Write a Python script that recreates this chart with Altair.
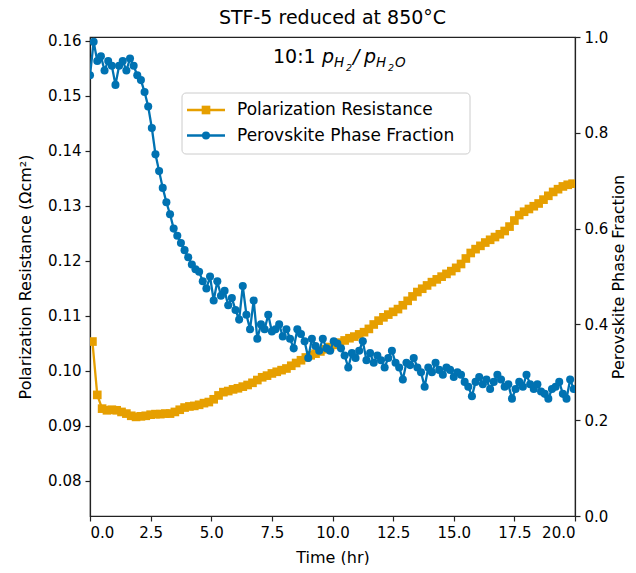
import altair as alt
import pandas as pd

# ---------------- data ----------------
rp_time = [0.1, 0.3, 0.5, 0.7, 0.9, 1.1, 1.3, 1.5, 1.7, 1.9,
           2.1, 2.3, 2.5, 2.7, 2.9, 3.1, 3.3, 3.5, 3.7, 3.9,
           4.1, 4.3, 4.5, 4.7, 4.9, 5.1, 5.3, 5.5, 5.7, 5.9,
           6.1, 6.3, 6.5, 6.7, 6.9, 7.1, 7.3, 7.5, 7.7, 7.9,
           8.1, 8.3, 8.5, 8.7, 8.9, 9.1, 9.3, 9.5, 9.7, 9.9,
           10.1, 10.3, 10.5, 10.7, 10.9, 11.1, 11.3, 11.5, 11.7, 11.9,
           12.1, 12.3, 12.5, 12.7, 12.9, 13.1, 13.3, 13.5, 13.7, 13.9,
           14.1, 14.3, 14.5, 14.7, 14.9, 15.1, 15.3, 15.5, 15.7, 15.9,
           16.1, 16.3, 16.5, 16.7, 16.9, 17.1, 17.3, 17.5, 17.7, 17.9,
           18.1, 18.3, 18.5, 18.7, 18.9, 19.1, 19.3, 19.5, 19.7, 19.9]
rp_values = [0.1053, 0.0956, 0.0931, 0.0928, 0.0929, 0.0928, 0.0925, 0.0922, 0.0918, 0.0916,
             0.0917, 0.0918, 0.0920, 0.0921, 0.0921, 0.0922, 0.0922, 0.0925, 0.0929, 0.0933,
             0.0935, 0.0936, 0.0938, 0.0941, 0.0943, 0.0948, 0.0955, 0.0961, 0.0963, 0.0966,
             0.0968, 0.0971, 0.0974, 0.0978, 0.0983, 0.0988, 0.0991, 0.0995, 0.0998, 0.1001,
             0.1004, 0.1009, 0.1014, 0.1019, 0.1024, 0.1028, 0.1031, 0.1035, 0.1039, 0.1043,
             0.1047, 0.1051, 0.1055, 0.1059, 0.1062, 0.1066, 0.1070, 0.1076, 0.1084, 0.1091,
             0.1097, 0.1102, 0.1107, 0.1112, 0.1119, 0.1127, 0.1135, 0.1143, 0.1149, 0.1155,
             0.1161, 0.1166, 0.1171, 0.1176, 0.1181, 0.1187, 0.1194, 0.1204, 0.1214, 0.1221,
             0.1227, 0.1233, 0.1238, 0.1243, 0.1248, 0.1254, 0.1262, 0.1273, 0.1283, 0.1289,
             0.1294, 0.1299, 0.1304, 0.1311, 0.1318, 0.1325, 0.1330, 0.1335, 0.1338, 0.1340]

pf_time = [0.00, 0.15, 0.30, 0.45, 0.60, 0.75, 0.90, 1.05, 1.20, 1.35,
           1.50, 1.65, 1.80, 1.95, 2.10, 2.25, 2.40, 2.55, 2.70, 2.85,
           3.00, 3.15, 3.30, 3.45, 3.60, 3.75, 3.90, 4.05, 4.20, 4.35,
           4.50, 4.65, 4.80, 4.95, 5.10, 5.25, 5.40, 5.55, 5.70, 5.85,
           6.00, 6.15, 6.30, 6.45, 6.60, 6.75, 6.90, 7.05, 7.20, 7.35,
           7.50, 7.65, 7.80, 7.95, 8.10, 8.25, 8.40, 8.55, 8.70, 8.85,
           9.00, 9.15, 9.30, 9.45, 9.60, 9.75, 9.90, 10.05, 10.20, 10.35,
           10.50, 10.65, 10.80, 10.95, 11.10, 11.25, 11.40, 11.55, 11.70, 11.85,
           12.00, 12.15, 12.30, 12.45, 12.60, 12.75, 12.90, 13.05, 13.20, 13.35,
           13.50, 13.65, 13.80, 13.95, 14.10, 14.25, 14.40, 14.55, 14.70, 14.85,
           15.00, 15.15, 15.30, 15.45, 15.60, 15.75, 15.90, 16.05, 16.20, 16.35,
           16.50, 16.65, 16.80, 16.95, 17.10, 17.25, 17.40, 17.55, 17.70, 17.85,
           18.00, 18.15, 18.30, 18.45, 18.60, 18.75, 18.90, 19.05, 19.20, 19.35,
           19.50, 19.65, 19.80, 19.95]
pf_values = [0.920, 0.990, 0.950, 0.960, 0.930, 0.950, 0.940, 0.900, 0.940, 0.950,
             0.930, 0.955, 0.940, 0.920, 0.910, 0.885, 0.855, 0.810, 0.755, 0.720,
             0.685, 0.655, 0.630, 0.600, 0.585, 0.570, 0.555, 0.540, 0.525, 0.515,
             0.510, 0.490, 0.475, 0.500, 0.450, 0.490, 0.460, 0.470, 0.440, 0.455,
             0.430, 0.410, 0.480, 0.420, 0.390, 0.450, 0.370, 0.400, 0.390, 0.420,
             0.385, 0.390, 0.400, 0.375, 0.390, 0.370, 0.350, 0.390, 0.380, 0.365,
             0.330, 0.370, 0.355, 0.345, 0.370, 0.350, 0.345, 0.365, 0.360, 0.350,
             0.335, 0.310, 0.340, 0.330, 0.345, 0.365, 0.325, 0.340, 0.320, 0.335,
             0.325, 0.310, 0.330, 0.345, 0.320, 0.310, 0.285, 0.320, 0.315, 0.330,
             0.310, 0.300, 0.270, 0.310, 0.300, 0.320, 0.305, 0.295, 0.310, 0.305,
             0.290, 0.300, 0.295, 0.280, 0.270, 0.250, 0.280, 0.290, 0.275, 0.285,
             0.265, 0.280, 0.295, 0.285, 0.270, 0.275, 0.245, 0.265, 0.280, 0.270,
             0.295, 0.275, 0.265, 0.275, 0.260, 0.255, 0.245, 0.265, 0.270, 0.280,
             0.255, 0.245, 0.285, 0.265]

x_ticks = [0.0, 2.5, 5.0, 7.5, 10.0, 12.5, 15.0, 17.5, 20.0]
left_ticks = [0.08, 0.09, 0.10, 0.11, 0.12, 0.13, 0.14, 0.15, 0.16]
right_ticks = [0.0, 0.2, 0.4, 0.6, 0.8, 1.0]
series_names = ["Polarization Resistance", "Perovskite Phase Fraction"]

ORANGE = "#E69F00"
BLUE = "#0072B2"
FONT = "DejaVu Sans"

df_rp = pd.DataFrame({"t": rp_time, "rp": rp_values})
df_pf = pd.DataFrame({"t": pf_time, "pf": pf_values})

x_enc = alt.X(
    "t:Q",
    scale=alt.Scale(domain=[0, 20], nice=False, zero=False),
    axis=alt.Axis(title="Time (hr)", values=x_ticks, format=".1f",
                  titlePadding=9),
)

rp_base = alt.Chart(df_rp).encode(
    x=x_enc,
    y=alt.Y("rp:Q",
            scale=alt.Scale(domain=[0.07358, 0.16067], nice=False, zero=False),
            axis=alt.Axis(orient="left", title="Polarization Resistance (Ωcm²)",
                          values=left_ticks, format=".2f", titlePadding=14)),
)
rp_layer = alt.layer(
    rp_base.mark_line(color=ORANGE, strokeWidth=2.3, clip=True),
    rp_base.mark_point(shape="square", filled=True, size=75, color=ORANGE,
                       opacity=1, clip=True),
)

pf_base = alt.Chart(df_pf).encode(
    x=x_enc,
    y=alt.Y("pf:Q",
            scale=alt.Scale(domain=[0, 1], nice=False, zero=False),
            axis=alt.Axis(orient="right", title="Perovskite Phase Fraction",
                          values=right_ticks, format=".1f", titleAngle=270,
                          titleBaseline="top", titlePadding=3)),
)
pf_layer = alt.layer(
    pf_base.mark_line(color=BLUE, strokeWidth=2.3, clip=True),
    pf_base.mark_point(shape="circle", filled=True, size=65, color=BLUE,
                       opacity=1, clip=True),
)

one = pd.DataFrame({"k": [0]})

# legend (drawn by hand so that each entry shows line + marker)
leg_box = alt.Chart(one).mark_rect(
    fill="white", fillOpacity=0.85, stroke="#cccccc", strokeWidth=1, cornerRadius=4
).encode(x=alt.value(92), x2=alt.value(380), y=alt.value(56), y2=alt.value(117))
leg_rule1 = alt.Chart(one).mark_rule(color=ORANGE, strokeWidth=2.3).encode(
    x=alt.value(97), x2=alt.value(135), y=alt.value(73))
leg_rule2 = alt.Chart(one).mark_rule(color=BLUE, strokeWidth=2.3).encode(
    x=alt.value(97), x2=alt.value(135), y=alt.value(98.5))
leg_pt1 = alt.Chart(one).mark_point(shape="square", filled=True, size=75,
                                    color=ORANGE, opacity=1).encode(
    x=alt.value(116), y=alt.value(73))
leg_pt2 = alt.Chart(one).mark_point(shape="circle", filled=True, size=65,
                                    color=BLUE, opacity=1).encode(
    x=alt.value(116), y=alt.value(98.5))
leg_txt1 = alt.Chart(one).mark_text(
    text=series_names[0], align="left", baseline="middle", font=FONT,
    fontSize=17, color="black").encode(x=alt.value(147), y=alt.value(73))
leg_txt2 = alt.Chart(one).mark_text(
    text=series_names[1], align="left", baseline="middle", font=FONT,
    fontSize=17, color="black").encode(x=alt.value(147), y=alt.value(98.5))

# annotation "10:1 p_{H2}/p_{H2O}"
def piece(txt, x, y, size, italic=True):
    kw = dict(text=txt, align="left", baseline="alphabetic", font=FONT,
              fontSize=size, color="black")
    if italic:
        kw["fontStyle"] = "italic"
    return alt.Chart(one).mark_text(**kw).encode(x=alt.value(x), y=alt.value(y))

ann = [
    piece("10:1", 183, 26, 19, italic=False),
    piece("p", 232, 26, 19),
    piece("H", 244, 30, 13.5),
    piece("2", 256, 33.5, 9.5),
    piece("/", 263, 26, 19),
    piece("p", 274, 26, 19),
    piece("H", 286, 30, 13.5),
    piece("2", 298, 33.5, 9.5),
    piece("O", 305, 30, 13.5),
]

chart = alt.layer(
    rp_layer, pf_layer,
    leg_box, leg_rule1, leg_rule2, leg_pt1, leg_pt2, leg_txt1, leg_txt2,
    *ann,
).resolve_scale(
    y="independent"
).properties(
    width=485, height=479,
    title=alt.TitleParams("STF-5 reduced at 850°C", font=FONT, fontSize=19,
                          fontWeight="normal", color="black", offset=2,
                          anchor="middle", frame="group"),
    autosize=alt.AutoSizeParams(type="none"),
    padding={"left": 82, "top": 29, "right": 53, "bottom": 49},
).configure_view(
    stroke="#222222", strokeWidth=1.2
).configure_axis(
    labelFont=FONT, titleFont=FONT, labelFontSize=15, titleFontSize=16,
    titleFontWeight="normal", labelColor="black", titleColor="black",
    domainColor="#222222", domainWidth=1.2, tickColor="#222222", tickWidth=1.2,
    tickSize=5, labelPadding=4, grid=False,
)

chart.save("out.html", embed_options={"renderer": "svg", "actions": False})
